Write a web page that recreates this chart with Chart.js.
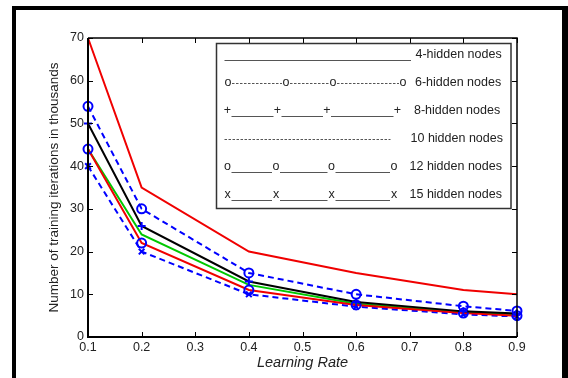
<!DOCTYPE html>
<html>
<head>
<meta charset="utf-8">
<script src="https://cdn.jsdelivr.net/npm/chart.js"></script>
<style>
  html, body { margin: 0; padding: 0; background: #fff; }
  #wrap { width: 568px; height: 378px; }
</style>
</head>
<body>
<div id="wrap"><canvas id="chart" width="568" height="378"></canvas></div>
<script>
// learning rate on x, iterations (thousands) on y
const learningRates = [0.1, 0.2, 0.4, 0.6, 0.8, 0.9];
const nodes4 = [70, 35, 20, 15, 11, 10];
const nodes6 = [54, 30, 15, 10, 7.2, 6.1];
const nodes8 = [50, 26, 13, 8.2, 6, 5.5];
const nodes10 = [44, 24, 12.2, 7.8, 5.8, 5.3];
const nodes12 = [44, 22, 11, 7.5, 5.6, 5];
const nodes15 = [40, 20, 10, 7.1, 5.3, 4.8];
const xTicks = [0.1, 0.2, 0.3, 0.4, 0.5, 0.6, 0.7, 0.8, 0.9];
const yTicks = [0, 10, 20, 30, 40, 50, 60, 70];
const legendLabels = ['4-hidden nodes', '6-hidden nodes', '8-hidden nodes', '10 hidden nodes', '12 hidden nodes', '15 hidden nodes'];

const FONT = "'Liberation Sans', Arial, sans-serif";
const TXT = '#222';

function pts(values) {
  return values.map((v, i) => ({ x: learningRates[i], y: v }));
}

// box, inward ticks, the text legend and the outer frame
const frame = {
  id: 'frame',
  afterDraw(chart) {
    const ctx = chart.ctx;
    const { left, right, top, bottom } = chart.chartArea;
    const xs = chart.scales.x, ys = chart.scales.y;
    ctx.save();

    ctx.strokeStyle = '#000';
    ctx.lineWidth = 1.5;
    ctx.beginPath();
    ctx.moveTo(left, top); ctx.lineTo(right, top); ctx.lineTo(right, bottom);
    ctx.stroke();
    ctx.lineWidth = 2;
    ctx.beginPath();
    ctx.moveTo(left, top); ctx.lineTo(left, bottom); ctx.lineTo(right, bottom);
    ctx.stroke();

    ctx.lineWidth = 1;
    ctx.beginPath();
    xTicks.forEach(v => {
      const px = Math.round(xs.getPixelForValue(v)) + 0.5;
      ctx.moveTo(px, bottom); ctx.lineTo(px, bottom - 5);
      ctx.moveTo(px, top); ctx.lineTo(px, top + 5);
    });
    yTicks.forEach(v => {
      const py = Math.round(ys.getPixelForValue(v)) + 0.5;
      ctx.moveTo(left, py); ctx.lineTo(left + 5, py);
      ctx.moveTo(right, py); ctx.lineTo(right - 5, py);
    });
    ctx.stroke();

    // legend box
    const lx = 216.5, ly = 43.5, lw = 294.5, lh = 165;
    ctx.fillStyle = '#fff';
    ctx.fillRect(lx, ly, lw, lh);
    ctx.strokeStyle = '#333';
    ctx.lineWidth = 1.5;
    ctx.strokeRect(lx, ly, lw, lh);

    const rows = [
      { mark: null, xs: [224.5, 411], style: 'under', textX: 415.5 },
      { mark: 'o', xs: [228, 286, 333, 403], style: 'dash', textX: 415 },
      { mark: '+', xs: [227.5, 277.5, 327, 397.5], style: 'under', textX: 414 },
      { mark: null, xs: [224.5, 390.5], style: 'dash', textX: 410.5 },
      { mark: 'o', xs: [227.5, 276, 331.5, 394], style: 'under', textX: 409.5 },
      { mark: 'x', xs: [227.5, 276, 331.5, 394], style: 'under', textX: 409.5 }
    ];
    ctx.font = '12.5px ' + FONT;
    ctx.textBaseline = 'middle';
    rows.forEach((r, i) => {
      const cy = 54.5 + i * 28;
      const gap = r.mark ? 4 : 0;
      ctx.strokeStyle = '#555';
      ctx.lineWidth = 1;
      ctx.setLineDash(r.style === 'dash' ? [2.5, 1.5] : []);
      const ly2 = r.style === 'dash' ? Math.round(cy) + 0.5 : Math.round(cy + 5) + 0.5;
      ctx.beginPath();
      for (let k = 0; k < r.xs.length - 1; k++) {
        ctx.moveTo(r.xs[k] + gap, ly2);
        ctx.lineTo(r.xs[k + 1] - gap, ly2);
      }
      ctx.stroke();
      ctx.setLineDash([]);
      ctx.fillStyle = TXT;
      if (r.mark) {
        ctx.textAlign = 'center';
        r.xs.forEach(x => ctx.fillText(r.mark, x, cy));
      }
      ctx.textAlign = 'left';
      ctx.fillText(legendLabels[i], r.textX, cy);
    });

    // outer black frame
    ctx.fillStyle = '#000';
    ctx.fillRect(12, 6, 4, 372);
    ctx.fillRect(12, 6, 556, 4);
    ctx.fillRect(562, 6, 6, 372);
    ctx.restore();
  }
};

const blue = '#0000ff';
const red = '#f00000';

new Chart(document.getElementById('chart'), {
  type: 'line',
  data: {
    datasets: [
      { label: legendLabels[0], data: pts(nodes4), borderColor: red, borderWidth: 2, pointRadius: 0, order: 6 },
      { label: legendLabels[1], data: pts(nodes6), borderColor: blue, borderWidth: 2, borderDash: [6, 4],
        pointStyle: 'circle', pointRadius: 4.5, pointBorderWidth: 2, pointBorderColor: blue, pointBackgroundColor: 'rgba(0,0,0,0)', order: 1 },
      { label: legendLabels[2], data: pts(nodes8), borderColor: '#000', borderWidth: 2,
        pointStyle: 'cross', pointRadius: 4, pointBorderWidth: 2, pointBorderColor: blue, order: 2 },
      { label: legendLabels[3], data: pts(nodes10), borderColor: '#00c800', borderWidth: 2, pointRadius: 0, order: 5 },
      { label: legendLabels[4], data: pts(nodes12), borderColor: red, borderWidth: 2,
        pointStyle: 'circle', pointRadius: 4.5, pointBorderWidth: 2, pointBorderColor: blue, pointBackgroundColor: 'rgba(0,0,0,0)', order: 3 },
      { label: legendLabels[5], data: pts(nodes15), borderColor: blue, borderWidth: 2, borderDash: [6, 4],
        pointStyle: 'crossRot', pointRadius: 4, pointBorderWidth: 2, pointBorderColor: blue, order: 4 }
    ].map(d => Object.assign({ fill: false, tension: 0, clip: false }, d))
  },
  options: {
    responsive: false,
    animation: false,
    devicePixelRatio: 1,
    layout: { padding: { top: 38, right: 51, left: 0, bottom: 0 } },
    plugins: { legend: { display: false }, tooltip: { enabled: false } },
    scales: {
      x: {
        type: 'linear', min: 0.1, max: 0.9,
        afterBuildTicks: s => { s.ticks = xTicks.map(v => ({ value: v })); },
        ticks: { callback: v => v.toFixed(1), font: { family: FONT, size: 12.5 }, color: TXT, padding: 3, autoSkip: false, maxRotation: 0 },
        grid: { display: false, drawTicks: false },
        border: { display: false },
        title: { display: true, text: 'Learning Rate', color: TXT, font: { family: FONT, size: 14.5, style: 'italic' }, padding: { top: 0, bottom: 6 } },
        afterFit: s => { s.height = 41; }
      },
      y: {
        min: 0, max: 70,
        afterBuildTicks: s => { s.ticks = yTicks.map(v => ({ value: v })); },
        ticks: { font: { family: FONT, size: 12.5 }, color: TXT, padding: 4 },
        grid: { display: false, drawTicks: false },
        border: { display: false },
        title: { display: true, text: 'Number of training iterations in thousands', color: TXT, font: { family: FONT, size: 13.5 }, padding: { top: 46, bottom: 0 } },
        afterFit: s => { s.width = 88; }
      }
    }
  },
  plugins: [frame]
});
</script>
</body>
</html>
